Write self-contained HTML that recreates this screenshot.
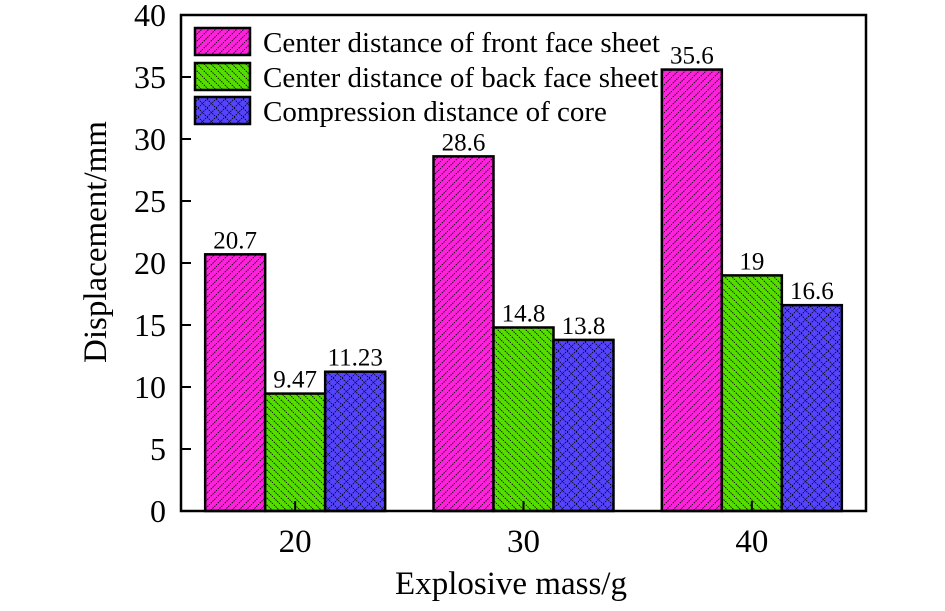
<!DOCTYPE html>
<html><head><meta charset="utf-8"><style>
body{margin:0;background:#fff;}
svg text{font-family:"Liberation Serif",serif;fill:#000;}
</style></head><body>
<svg id="chart" width="945" height="606" viewBox="0 0 945 606">
<defs>
<pattern id="pPink" patternUnits="userSpaceOnUse" width="7" height="7">
<rect width="7" height="7" fill="#ff22dd"/><path d="M-1,8 L8,-1" stroke="#000" stroke-width="0.9" stroke-dasharray="1.5,1"/></pattern>
<pattern id="pGreen" patternUnits="userSpaceOnUse" width="7" height="7">
<rect width="7" height="7" fill="#55dd00"/><path d="M-1,-1 L8,8" stroke="#000" stroke-width="0.9" stroke-dasharray="1.5,1"/></pattern>
<pattern id="pBlue" patternUnits="userSpaceOnUse" width="9" height="9">
<rect width="9" height="9" fill="#5544ff"/><path d="M0,0 L9,9 M0,9 L9,0" stroke="#000" stroke-width="0.8" stroke-dasharray="1.5,1"/></pattern>
</defs>
<g id="bars"></g>
<rect x="181" y="15" width="685" height="496" fill="none" stroke="#000" stroke-width="2.5"/>
<g id="axes"></g>
<text x="0" y="0" transform="translate(106,242) rotate(-90)" text-anchor="middle" font-size="33">Displacement/mm</text>
<text x="511" y="594" text-anchor="middle" font-size="33">Explosive mass/g</text>
<g>
<rect x="195" y="28" width="55" height="27" fill="url(#pPink)" stroke="#000" stroke-width="2.5"/>
<text x="263" y="52" font-size="29">Center distance of front face sheet</text>
<rect x="195" y="63" width="55" height="27" fill="url(#pGreen)" stroke="#000" stroke-width="2.5"/>
<text x="263" y="87" font-size="29">Center distance of back face sheet</text>
<rect x="195" y="97" width="55" height="27" fill="url(#pBlue)" stroke="#000" stroke-width="2.5"/>
<text x="263" y="121" font-size="29">Compression distance of core</text>
</g>
</svg>
<script>
const categories = ["20", "30", "40"];
const frontValues = [20.7, 28.6, 35.6];
const backValues = [9.47, 14.8, 19];
const coreValues = [11.23, 13.8, 16.6];
const frontLabels = ["20.7", "28.6", "35.6"];
const backLabels = ["9.47", "14.8", "19"];
const coreLabels = ["11.23", "13.8", "16.6"];
const yTicks = [0, 5, 10, 15, 20, 25, 30, 35, 40];

const NS = "http://www.w3.org/2000/svg";
const x0 = 181, x1 = 866, yBase = 511, yTop = 15, yMax = 40;
function yScale(v){ return yBase - (v / yMax) * (yBase - yTop); }
const groupW = (x1 - x0) / categories.length;
function xCenter(i){ return x0 + groupW * (i + 0.5); }
const barW = 60;
const bars = document.getElementById('bars');
const axes = document.getElementById('axes');
function mk(tag, attrs, parent){ const e = document.createElementNS(NS, tag); for (const k in attrs) e.setAttribute(k, attrs[k]); parent.appendChild(e); return e; }
const series = [
  {vals: frontValues, labs: frontLabels, fill: "url(#pPink)", name: "front"},
  {vals: backValues, labs: backLabels, fill: "url(#pGreen)", name: "back"},
  {vals: coreValues, labs: coreLabels, fill: "url(#pBlue)", name: "core"}
];
series.forEach((s, si) => {
  s.vals.forEach((v, i) => {
    const x = xCenter(i) + (si - 1.5) * barW;
    const y = yScale(v);
    const r = mk('rect', {x: x, y: y, width: barW, height: yBase - y, fill: s.fill, stroke: "#000", "stroke-width": 2.5}, bars);
    
    
    const t = mk('text', {x: x + barW / 2, y: y - 6, "text-anchor": "middle", "font-size": 25}, bars);
    t.textContent = s.labs[i];
    
    
  });
});
yTicks.forEach(v => {
  const y = yScale(v);
  mk('line', {x1: x0, x2: x0 + 10, y1: y, y2: y, stroke: "#000", "stroke-width": 2}, axes);
  const t = mk('text', {x: 166, y: y + 11, "text-anchor": "end", "font-size": 32}, axes);
  t.textContent = v;
  
  
});
categories.forEach((c, i) => {
  const x = xCenter(i);
  mk('line', {x1: x, x2: x, y1: yBase, y2: yBase - 10, stroke: "#000", "stroke-width": 2}, axes);
  const t = mk('text', {x: x, y: 552, "text-anchor": "middle", "font-size": 33}, axes);
  t.textContent = c;
  
  
});
</script>
</body></html>
